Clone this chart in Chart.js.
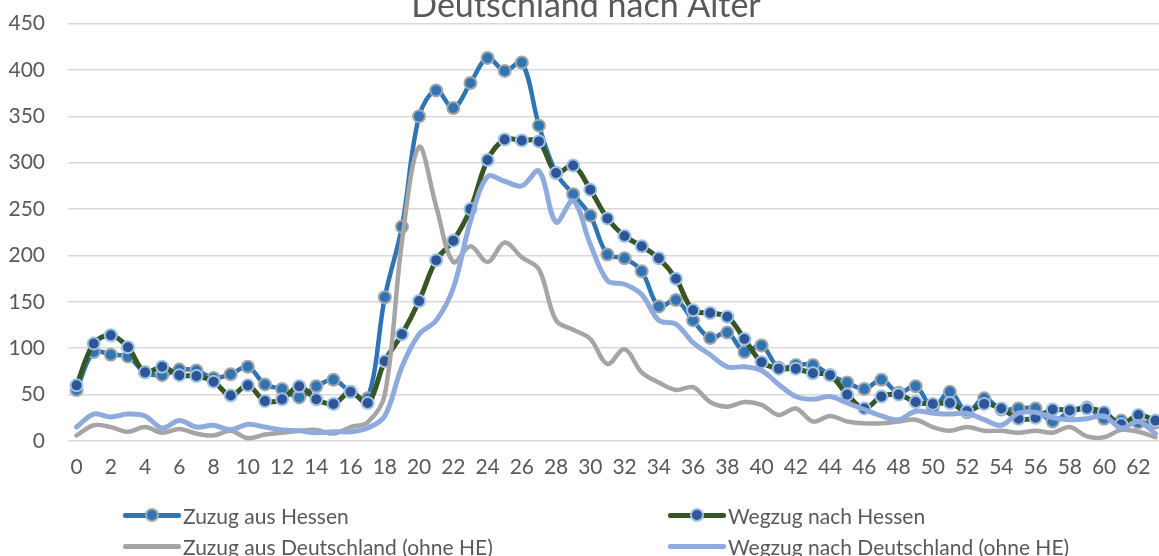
<!DOCTYPE html>
<html>
<head>
<meta charset="utf-8">
<script src="https://cdn.jsdelivr.net/npm/chart.js@4.4.1/dist/chart.umd.min.js"></script>
<style>
  html, body { margin: 0; padding: 0; background: #fff; overflow: hidden; width: 1159px; height: 556px; }
  #wrap { position: absolute; left: 0; top: -12px; width: 1172px; height: 493px; }
  #legend { position: absolute; left: 0; top: 0; width: 1159px; height: 556px; font-family: Lato, sans-serif; font-size: 21px; color: #595959; }
  .item { position: absolute; height: 30px; display: flex; align-items: center; white-space: nowrap; }
  .sym { position: relative; width: 58px; height: 30px; margin-right: 2px; }
  .sym .ln { position: absolute; left: 0; top: 12.5px; width: 58px; height: 5px; border-radius: 2px; }
  .sym .pt { position: absolute; left: 22px; top: 8px; width: 10px; height: 10px; border-radius: 50%; border: 2px solid; }
</style>
</head>
<body>
<div id="wrap"><canvas id="chart" width="1172" height="493"></canvas></div>
<div id="legend"></div>
<script>
// Alter 0 bis 63
const ages = ["0","1","2","3","4","5","6","7","8","9","10","11","12","13","14","15",
  "16","17","18","19","20","21","22","23","24","25","26","27","28","29","30","31",
  "32","33","34","35","36","37","38","39","40","41","42","43","44","45","46","47",
  "48","49","50","51","52","53","54","55","56","57","58","59","60","61","62","63"];

const zuzugHessen = [55, 96, 93, 91, 74, 71, 77, 76, 68, 72, 80, 61, 56, 47, 59, 66,
  53, 46, 155, 231, 350, 378, 359, 386, 413, 399, 408, 340, 289, 266, 243, 201,
  197, 183, 145, 152, 130, 111, 117, 96, 103, 79, 82, 82, 71, 63, 56, 66,
  52, 59, 36, 53, 31, 46, 34, 35, 35, 21, 32, 36, 24, 22, 20, 20];

const wegzugHessen = [60, 105, 114, 101, 74, 80, 71, 70, 64, 49, 60, 43, 45, 59, 45, 40,
  53, 41, 86, 115, 151, 195, 216, 250, 303, 325, 324, 323, 289, 297, 271, 240,
  221, 210, 197, 175, 141, 138, 134, 110, 85, 78, 78, 73, 71, 50, 35, 48,
  50, 42, 40, 41, 32, 40, 35, 24, 25, 34, 33, 35, 31, 18, 28, 22];

const zuzugDeutschland = [6, 17, 15, 10, 15, 9, 13, 8, 6, 11, 3, 7, 9, 11, 12, 8,
  15, 20, 50, 215, 317, 253, 193, 210, 193, 214, 198, 185, 130, 120, 110, 83,
  99, 74, 63, 55, 58, 42, 37, 42, 39, 28, 35, 21, 27, 21, 19, 19,
  21, 23, 15, 11, 15, 11, 11, 9, 11, 9, 15, 5, 4, 12, 10, 4];

const wegzugDeutschland = [15, 29, 26, 29, 27, 14, 22, 15, 17, 12, 18, 15, 12, 11, 9, 10,
  10, 14, 27, 80, 115, 130, 165, 237, 285, 280, 275, 291, 236, 259, 212, 173,
  169, 158, 130, 126, 106, 93, 80, 80, 76, 61, 48, 45, 48, 41, 34, 27,
  23, 32, 30, 29, 30, 23, 17, 30, 31, 25, 23, 24, 27, 14, 21, 8];

const yTicks = [0, 50, 100, 150, 200, 250, 300, 350, 400, 450];

const tickColor = "#595959";
const gridColor = "#D9D9D9";

const datasets = [
  {
    label: "Zuzug aus Hessen",
    data: zuzugHessen,
    borderColor: "#2E75B6",
    borderWidth: 4.5,
    pointRadius: 6,
    pointBackgroundColor: "#2E75B6",
    pointBorderColor: "#A5A5A5",
    pointBorderWidth: 2,
    order: 3
  },
  {
    label: "Wegzug nach Hessen",
    data: wegzugHessen,
    borderColor: "#375623",
    borderWidth: 5,
    pointRadius: 6,
    pointBackgroundColor: "#2F5597",
    pointBorderColor: "#9DC3E6",
    pointBorderWidth: 2,
    order: 2
  },
  {
    label: "Zuzug aus Deutschland (ohne HE)",
    data: zuzugDeutschland,
    borderColor: "#A5A5A5",
    borderWidth: 4.5,
    pointRadius: 0,
    order: 1
  },
  {
    label: "Wegzug nach Deutschland (ohne HE)",
    data: wegzugDeutschland,
    borderColor: "#8FAADC",
    borderWidth: 5,
    pointRadius: 0,
    order: 0
  }
];

const chart = new Chart(document.getElementById("chart"), {
  type: "line",
  data: { labels: ages, datasets: datasets },
  options: {
    responsive: false,
    animation: false,
    layout: { padding: 0 },
    elements: { line: { tension: 0.35, fill: false, borderCapStyle: "round", borderJoinStyle: "round" } },
    plugins: {
      legend: { display: false },
      tooltip: { enabled: false },
      title: {
        display: true,
        text: "Deutschland nach Alter",
        color: tickColor,
        font: { family: "Lato", size: 34, weight: "normal", lineHeight: 1.0 },
        padding: { top: 0, bottom: 1 }
      }
    },
    scales: {
      x: {
        offset: true,
        grid: { display: false },
        border: { display: false },
        ticks: {
          autoSkip: false,
          maxRotation: 0,
          padding: 6,
          color: tickColor,
          font: { family: "Lato", size: 21 },
          callback: function (v, i) { return i % 2 === 0 ? ages[i] : ""; }
        },
        afterFit: function (s) { s.height = 40; }
      },
      y: {
        min: 0,
        max: 450,
        afterBuildTicks: function (s) { s.ticks = yTicks.map(v => ({ value: v })); },
        grid: { color: gridColor, lineWidth: 1.5, drawTicks: false },
        border: { display: false },
        ticks: {
          padding: 23,
          color: tickColor,
          font: { family: "Lato", size: 21 }
        },
        afterFit: function (s) { s.width = 68; }
      }
    }
  }
});

// Legende in zwei Spalten wie im Original
const legendEl = document.getElementById("legend");
const colX = [123, 668];
const rowY = [515, 546];
chart.data.datasets.forEach(function (ds, i) {
  const item = document.createElement("div");
  item.className = "item";
  item.style.left = colX[i % 2] + "px";
  item.style.top = (rowY[Math.floor(i / 2)] - 15) + "px";
  const sym = document.createElement("div");
  sym.className = "sym";
  const ln = document.createElement("div");
  ln.className = "ln";
  ln.style.background = ds.borderColor;
  sym.appendChild(ln);
  if (ds.pointRadius > 0) {
    const pt = document.createElement("div");
    pt.className = "pt";
    pt.style.background = ds.pointBackgroundColor;
    pt.style.borderColor = ds.pointBorderColor;
    sym.appendChild(pt);
  }
  item.appendChild(sym);
  const txt = document.createElement("span");
  txt.textContent = ds.label;
  item.appendChild(txt);
  legendEl.appendChild(item);
});
</script>
</body>
</html>
